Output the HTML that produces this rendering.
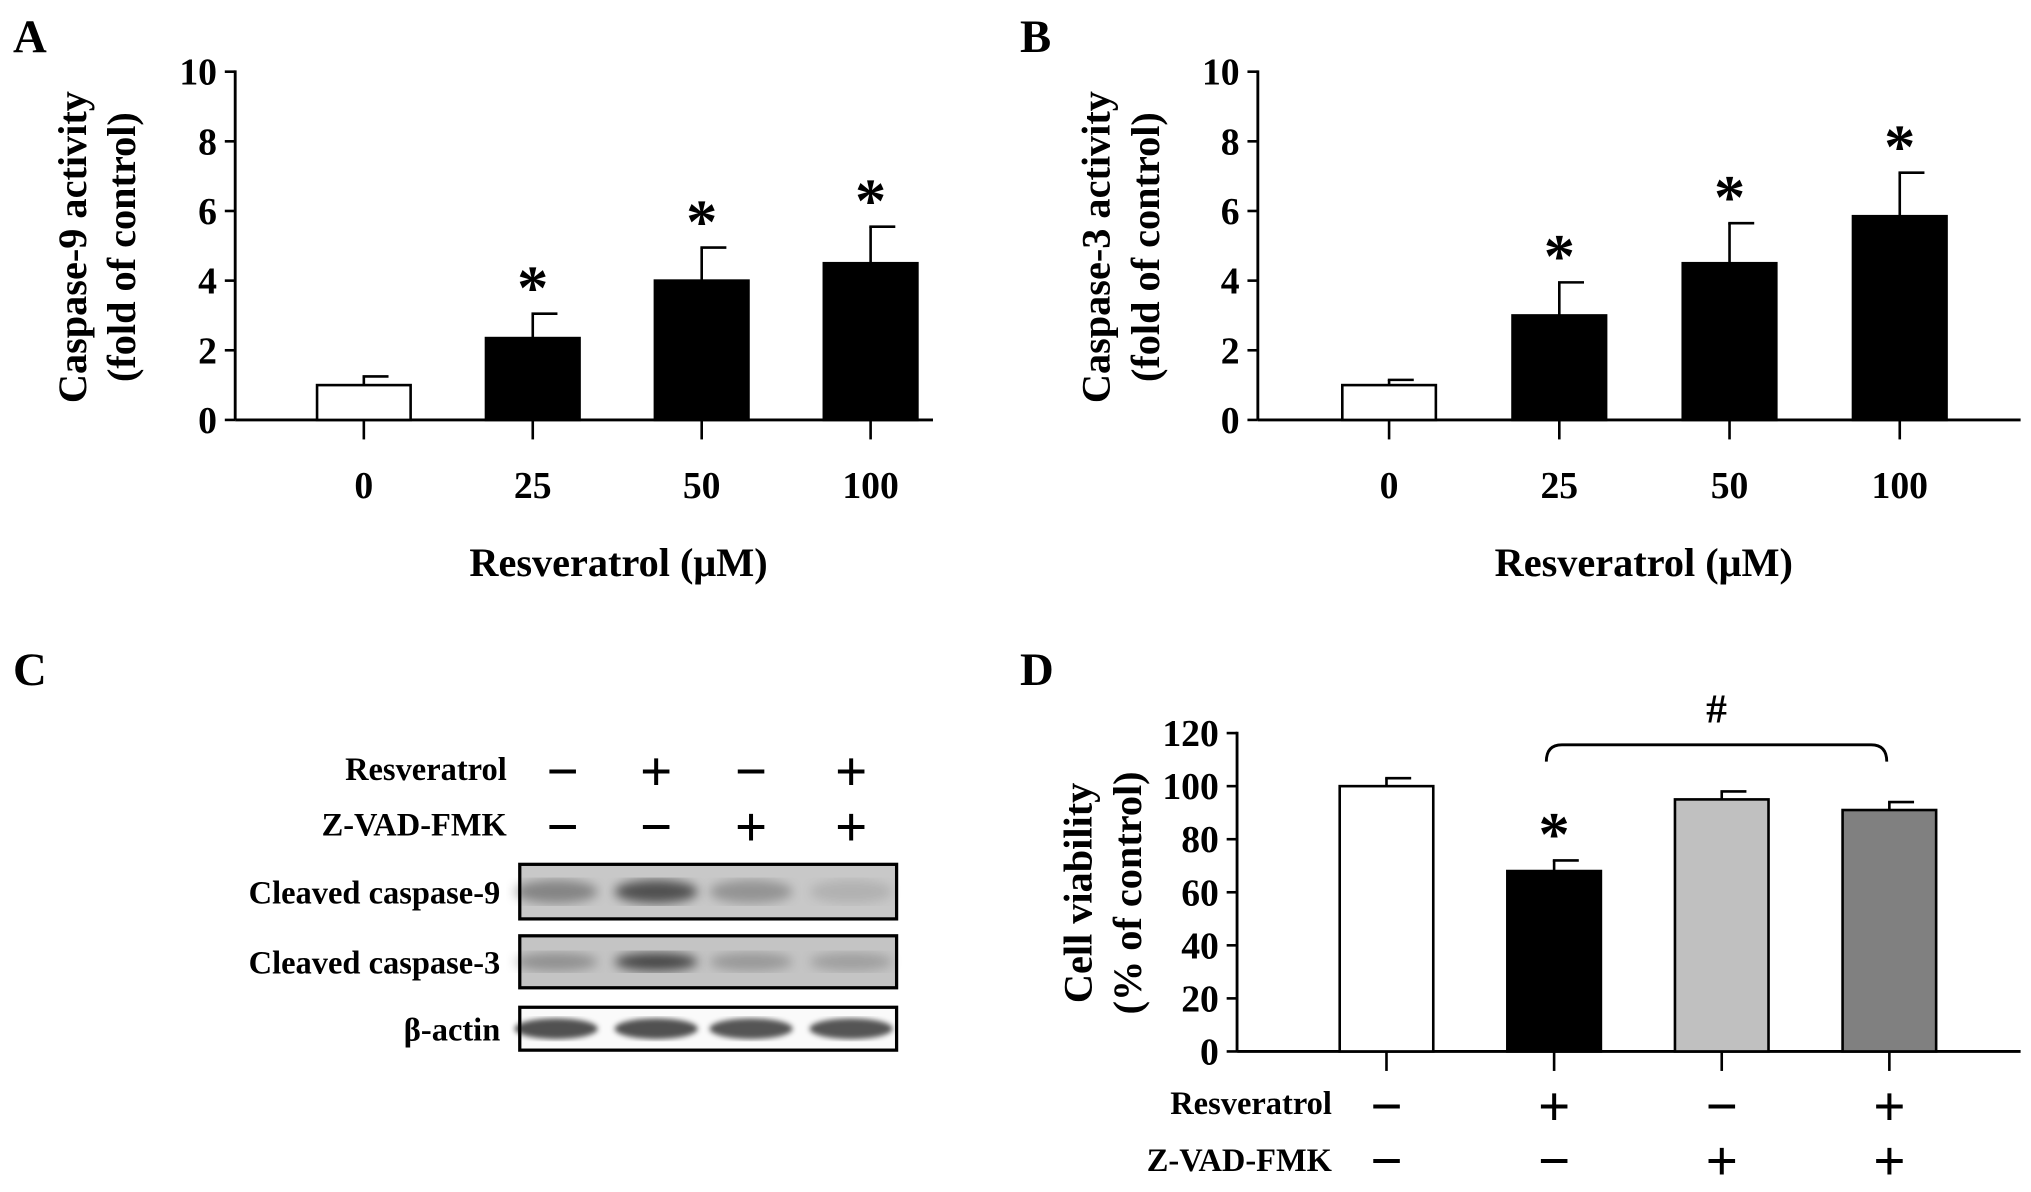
<!DOCTYPE html>
<html><head><meta charset="utf-8"><style>
html,body{margin:0;padding:0;background:#fff}
svg{display:block}
text{font-family:"Liberation Serif",serif;font-weight:bold;fill:#000}
</style></head><body>
<svg id="fig" width="2031" height="1192" viewBox="0 0 1563 917" xmlns="http://www.w3.org/2000/svg">
<defs>
<filter id="blur"><feGaussianBlur stdDeviation="4"/></filter>
<filter id="blur2"><feGaussianBlur stdDeviation="2"/></filter>
</defs>
<g id="root"></g>
</svg>
<script>
// Panel A data
const catsA = ["0","25","50","100"];
const valsA = [1.0, 2.35, 4.0, 4.5];
const errA = [0.25, 0.7, 0.95, 1.05];
const sigA = [false, true, true, true];
// Panel B data
const catsB = ["0","25","50","100"];
const valsB = [1.0, 3.0, 4.5, 5.85];
const errB = [0.15, 0.95, 1.15, 1.25];
const sigB = [false, true, true, true];
const ticksAB = [0,2,4,6,8,10];
// Panel D data
const valsD = [100, 68, 95, 91];
const errD = [3, 4, 3, 3];
const sigD = [false, true, false, false];
const fillsD = ["#fff","#000","#c0c0c0","#808080"];
const ticksD = [0,20,40,60,80,100,120];
const resvD = ["−","+","−","+"];
const zvadD = ["−","−","+","+"];
// Panel C blot intensities (0..1)
const casp9 = [0.45, 0.8, 0.35, 0.15];
const casp3 = [0.35, 0.85, 0.3, 0.25];
const actin = [0.9, 0.9, 0.88, 0.88];

const NS="http://www.w3.org/2000/svg";
const root=document.getElementById('root');
function el(tag,attrs,parent){const e=document.createElementNS(NS,tag);for(const k in attrs)e.setAttribute(k,attrs[k]);(parent||root).appendChild(e);return e;}
function txt(x,y,s,size,anchor,parent,extra){const t=el('text',Object.assign({x:x,y:y,'font-size':size,'text-anchor':anchor||'middle'},extra||{}),parent);t.textContent=s;return t;}

function barChart(o){
  const g=el('g',{});
  
  
  const ys=v=>o.y0-(v-o.min)/(o.max-o.min)*(o.y0-o.yTop);
  const xs=i=>o.xc[0]+i*(o.xc[1]-o.xc[0]);
  const ya=el('line',{x1:o.x0,y1:o.yTop-1,x2:o.x0,y2:o.y0,stroke:'#000','stroke-width':2.2},g);
  
  const xa=el('line',{x1:o.x0,y1:o.y0,x2:o.xEnd,y2:o.y0,stroke:'#000','stroke-width':2.2},g);
  
  o.ticks.forEach(t=>{
    const y=ys(t);
    el('line',{x1:o.x0-8,y1:y,x2:o.x0,y2:y,stroke:'#000','stroke-width':2},g);
    const lb=txt(o.x0-14,y+10,String(t),29,'end',g);
    
  });
  o.vals.forEach((v,i)=>{
    const cx=xs(i);
    el('line',{x1:cx,y1:o.y0,x2:cx,y2:o.y0+15,stroke:'#000','stroke-width':2},g);
    const top=ys(v+o.err[i]);
    el('line',{x1:cx,y1:ys(v),x2:cx,y2:top,stroke:'#000','stroke-width':2},g);
    el('line',{x1:cx-1,y1:top,x2:cx+19,y2:top,stroke:'#000','stroke-width':2},g);
    const b=el('rect',{x:cx-36,y:ys(v),width:72,height:o.y0-ys(v),fill:o.fills[i],stroke:'#000','stroke-width':2},g);
    
    if(o.sig[i]){const s=txt(cx,top-4,'*',48,'middle',g,{'font-weight':'normal'});}
    if(o.cats){const c=txt(cx,o.y0+60,o.cats[i],29,'middle',g);}
  });
  return {g,ys,xs};
}

let A=barChart({name:'panel-a-chart',x0:181,xEnd:718,y0:323,yTop:55,min:0,max:10,ticks:ticksAB,xc:[280,410],vals:valsA,err:errA,sig:sigA,cats:catsA,fills:['#fff','#000','#000','#000']});
let t;
t=txt(10,40,'A',36,'start');
t=txt(476,443,'Resveratrol (μM)',31);
t=txt(0,0,'Caspase-9 activity',31,'middle',null,{transform:'translate(66,190) rotate(-90)'});
t=txt(0,0,'(fold of control)',31,'middle',null,{transform:'translate(104,190) rotate(-90)'});

let B=barChart({name:'panel-b-chart',x0:968,xEnd:1555,y0:323,yTop:55,min:0,max:10,ticks:ticksAB,xc:[1069,1200],vals:valsB,err:errB,sig:sigB,cats:catsB,fills:['#fff','#000','#000','#000']});
t=txt(785,40,'B',36,'start');
t=txt(1265,443,'Resveratrol (μM)',31);
t=txt(0,0,'Caspase-3 activity',31,'middle',null,{transform:'translate(854,190) rotate(-90)'});
t=txt(0,0,'(fold of control)',31,'middle',null,{transform:'translate(892,190) rotate(-90)'});

let D=barChart({name:'panel-d-chart',x0:952,xEnd:1555,y0:809,yTop:564,min:0,max:120,ticks:ticksD,xc:[1067,1196],vals:valsD,err:errD,sig:sigD,cats:null,fills:fillsD});
t=txt(785,527,'D',36,'start');
t=txt(0,0,'Cell viability',31,'middle',null,{transform:'translate(840,687) rotate(-90)'});
t=txt(0,0,'(% of control)',31,'middle',null,{transform:'translate(878,687) rotate(-90)'});
{
  const bx1=D.xs(1)-6,bx2=D.xs(3)-2,by=573;
  const br=el('path',{d:`M${bx1},${by+13} Q${bx1},${by} ${bx1+12},${by} L${bx2-12},${by} Q${bx2},${by} ${bx2},${by+13}`,fill:'none',stroke:'#000','stroke-width':2.2});
  
  t=txt((bx1+bx2)/2,556,'#',32,'middle',null,{'font-weight':'normal'});
}
t=txt(1025,857,'Resveratrol',25,'end');
t=txt(1025,901,'Z-VAD-FMK',25,'end');
resvD.forEach((s,i)=>{const e=txt(D.xs(i),866,s,44);});
zvadD.forEach((s,i)=>{const e=txt(D.xs(i),908,s,44);});

t=txt(10,527,'C',36,'start');
const laneX=[433,505,578,655];
const resvC=["−","+","−","+"], zvadC=["−","−","+","+"];
t=txt(390,600,'Resveratrol',25,'end');
t=txt(390,643,'Z-VAD-FMK',25,'end');
resvC.forEach((s,i)=>{const e=txt(laneX[i],608,s,44);});
zvadC.forEach((s,i)=>{const e=txt(laneX[i],651,s,44);});
function blot(name,label,y,h,bg,vals,bandH,filt){
  const g=el('g',{});
  
  
  el('rect',{x:400,y:y,width:290,height:h,fill:bg,stroke:'none'},g);
  vals.forEach((v,i)=>{
    el('ellipse',{cx:laneX[i]-(i==0?5:0),cy:y+h/2,rx:32,ry:bandH,fill:'#000','fill-opacity':v*0.75,filter:filt},g);
  });
  el('rect',{x:400,y:y,width:290,height:h,fill:'none',stroke:'#000','stroke-width':2.5},g);
  const l=txt(385,y+h/2+9,label,25,'end',g);
  
}
blot('blot-cleaved-caspase-9','Cleaved caspase-9',665,42,'#c8c8c8',casp9,9,'url(#blur)');
blot('blot-cleaved-caspase-3','Cleaved caspase-3',720,40,'#c4c4c4',casp3,7,'url(#blur)');
blot('blot-beta-actin','β-actin',775,33,'#fafafa',actin,8,'url(#blur2)');
</script>
</body></html>
